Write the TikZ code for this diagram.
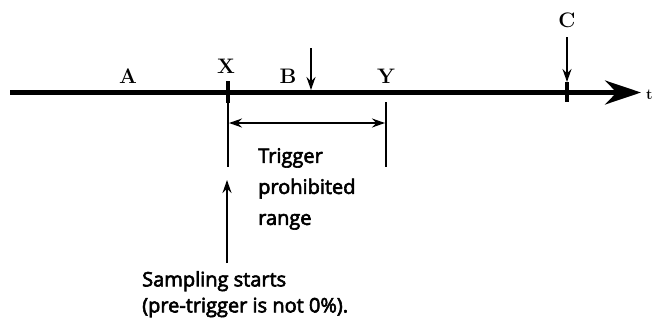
\documentclass[tikz,border=0pt]{standalone}
\usepackage{fontspec}
\setsansfont{Open Sans}
\usetikzlibrary{arrows.meta}

% heavier strokes for the sans notes
\newcommand\heavy{\special{pdf:literal direct 2 Tr 0.6 w}}
\newcommand\notefont[1]{\sffamily\fontsize{20}{#1}\selectfont\heavy}
\tikzset{
  lbl/.style={font=\bfseries\fontsize{21}{21}\selectfont,anchor=base,inner sep=0pt},
  note/.style={font=\notefont{31},align=left,anchor=north west,inner sep=0pt},
  thinline/.style={line width=1.8pt},
  tick/.style={line width=4pt},
  smallarrow/.style={line width=1.8pt,-{Stealth[length=13pt,width=9pt]}}
}

\begin{document}
\begin{tikzpicture}[x=1pt,y=-1pt]
\useasboundingbox (0,0) rectangle (656,322);

% time axis
\coordinate (o) at (10,92.5);
\coordinate (e) at (641,92.5);
\draw[line width=4.5pt,-{Stealth[length=36pt,width=24pt]}] (o) -- (e);
\node[lbl,anchor=base west,font=\bfseries\fontsize{15}{15}\selectfont] (t) at (646,99) {t};

% marks on the axis
\coordinate (xt) at (228,81);
\coordinate (xb) at (228,103);
\coordinate (xd) at (228,167);
\coordinate (ct) at (567,82);
\coordinate (cb) at (567,102);
\coordinate (yt) at (386,102);
\coordinate (yd) at (386,167);
\draw[tick] (xt) -- (xb) (ct) -- (cb);
\draw[thinline] (xb) -- (xd) (yt) -- (yd);

\node[lbl] (A) at (128,83) {A};
\node[lbl] (X) at (226,73) {X};
\node[lbl] (B) at (288,83) {B};
\node[lbl] (Y) at (386,83) {Y};
\node[lbl] (C) at (567,27) {C};

% trigger arrows
\coordinate (bt) at (311,48);
\coordinate (bb) at (311,90);
\coordinate (cs) at (567,37);
\draw[smallarrow] (bt) -- (bb);
\draw[smallarrow] (cs) -- (ct);

% prohibited range
\coordinate (rl) at (229,123);
\coordinate (rr) at (385,123);
\draw[thinline,{Stealth[length=13pt,width=9pt]}-{Stealth[length=13pt,width=9pt]}] (rl) -- (rr);
\node[note] (tpr) at (258,148) {Trigger\\prohibited\\range};

% sampling start
\node[note,font=\notefont{26}] (ss) at (142,271) {Sampling starts\\(pre-trigger is not 0\%).};
\coordinate (us) at (227,263);
\coordinate (ue) at (227,180);
\draw[smallarrow] (us) -- (ue);
\end{tikzpicture}
\end{document}
